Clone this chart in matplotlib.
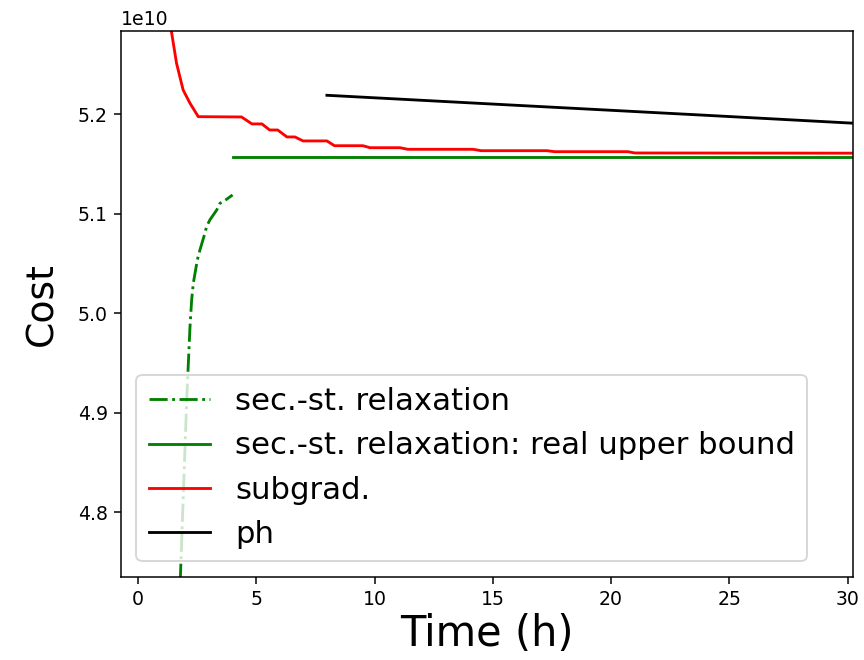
#cost vs time for the different solution methods
#values read off in units of 1e10

import numpy as np
from matplotlib import pyplot as plt

#second-stage relaxation (lower bound curve)
relax_t = [1.72, 1.79, 1.90, 2.05, 2.19, 2.26, 2.33, 2.50, 2.61, 2.82, 2.89, 3.03, 3.32, 3.46, 3.60, 3.99]
relax_cost = [4.70, 4.739, 4.8125, 4.913, 4.9867, 5.0136, 5.0304, 5.0538, 5.0638, 5.0806, 5.0872, 5.094, 5.104, 5.1108, 5.1124, 5.1191]

#real upper bound from the relaxation
ub_t = [3.99, 30.5]
ub_cost = [5.1577, 5.1577]

#subgradient method
sub_t = [1.35, 1.41, 1.62, 1.90, 2.19, 2.54, 4.37, 4.81, 5.23, 5.56, 5.90, 6.29, 6.63, 6.97, 7.98,
         8.30, 9.50, 9.80, 11.07, 11.40, 14.16, 14.50, 17.29, 17.60, 20.71, 21.00, 30.5]
sub_cost = [5.293, 5.2826, 5.2515, 5.2246, 5.2113, 5.1978, 5.1975, 5.1905, 5.1905, 5.1844, 5.1844,
            5.1774, 5.1774, 5.1734, 5.1734, 5.1686, 5.1686, 5.1666, 5.1666, 5.1650, 5.1650,
            5.1636, 5.1636, 5.1626, 5.1626, 5.1613, 5.1611]

#progressive hedging
ph_t = [7.98, 15.29, 23.76, 30.5]
ph_cost = [5.2193, 5.2101, 5.1995, 5.1909]

scale = 1e10

fig = plt.figure(figsize=(864/136, 660/136), dpi=136)
ax = fig.add_subplot(111)
fig.subplots_adjust(left=0.140, right=0.987, bottom=0.126, top=0.953)

ax.plot(relax_t, np.array(relax_cost)*scale, 'g-.', label='sec.-st. relaxation')
ax.plot(ub_t, np.array(ub_cost)*scale, 'g-', label='sec.-st. relaxation: real upper bound')
ax.plot(sub_t, np.array(sub_cost)*scale, 'r-', label='subgrad.')
ax.plot(ph_t, np.array(ph_cost)*scale, 'k-', label='ph')

ax.set_xlim(-0.73, 30.22)
ax.set_ylim(4.7352e10, 5.2839e10)
ax.set_xlabel('Time (h)', fontsize=22, labelpad=2)
ax.set_ylabel('Cost', fontsize=20, labelpad=9)
ax.legend(loc='lower left', fontsize=16.3)

plt.savefig('out.png', dpi=136)
